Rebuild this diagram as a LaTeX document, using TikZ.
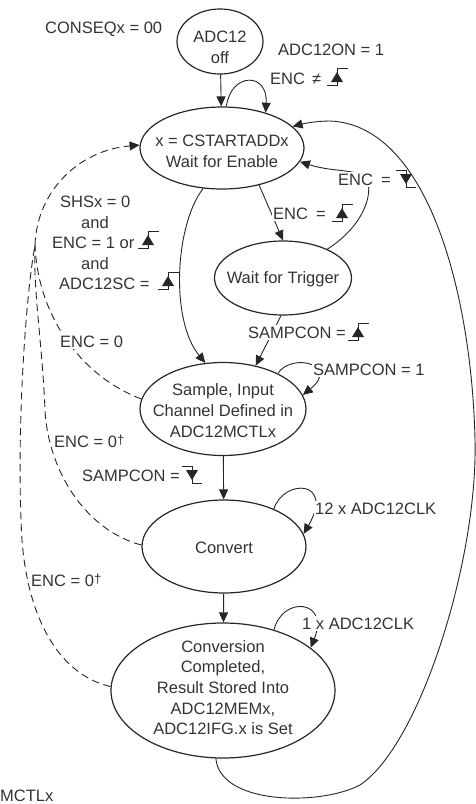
\documentclass[tikz,border=0pt]{standalone}
\usepackage{fontspec}
\setmainfont{Liberation Sans}
\usetikzlibrary{arrows.meta,shapes.geometric}
\newcommand\encdag{\raisebox{2.5pt}{\fontsize{13}{13}\selectfont †}}
\tikzset{
  edgeln/.style={draw=black!85, line width=0.9pt},
  riseedge/.pic={
    \draw[edgeln] (-10,8.5) -- (0,8.5) -- (0,-8.5) -- (11,-8.5);
    \fill[black!85] (-6,5) -- (6,5) -- (0,-5) -- cycle;
  },
  falledge/.pic={
    \draw[edgeln] (-10,-8.5) -- (0,-8.5) -- (0,8.5) -- (10,8.5);
    \fill[black!85] (-6,-5) -- (6,-5) -- (0,5) -- cycle;
  },
}
\begin{document}
\begin{tikzpicture}[x=1pt,y=-1pt,
  every node/.style={font=\fontsize{16.5}{20.7}\selectfont, text=black!80, inner sep=0pt},
  st/.style={ellipse, draw=black!85, line width=1.2pt},
  txt/.style={align=center},
  lab/.style={anchor=base west},
  wlab/.style={anchor=base west, fill=white, inner sep=1.5pt},
  arr/.style={edgeln, -{Triangle[length=10pt,width=9pt]}},
  dsh/.style={edgeln, dash pattern=on 7.5pt off 4.5pt},
]
\useasboundingbox (0,0) rectangle (476,804);

% states
\node[st, minimum width=86pt, minimum height=65pt] (off) at (220,41.5) {};
\node[txt] (offt) at (220,47.5) {ADC12\\off};
\node[st, minimum width=164pt, minimum height=82pt] (en) at (222,148) {};
\node[txt] (ent) at (222,151.5) {x = CSTARTADDx\\Wait for Enable};
\node[st, minimum width=137pt, minimum height=74pt] (trig) at (283,278) {};
\node[anchor=base] (trigt) at (283,283) {Wait for Trigger};
\node[st, minimum width=166pt, minimum height=93pt] (samp) at (223,409) {};
\node[txt] (sampt) at (223,410.5) {Sample, Input\\Channel Defined in\\ADC12MCTLx};
\node[st, minimum width=164pt, minimum height=93pt] (conv) at (224,546.5) {};
\node[anchor=base] (convt) at (224,553) {Convert};
\node[st, minimum width=224pt, minimum height=135pt] (done) at (223,690.5) {};
\node[txt] (donet) at (223,687.5) {Conversion\\Completed,\\Result Stored Into\\ADC12MEMx,\\ADC12IFG.x is Set};

% solid connectors
\draw[arr] (off) -- (en);
\draw[arr] (en.84) .. controls (231,72) and (268,72) .. (en.39);
\draw[arr] (done.-96) .. controls (220,805) and (320,806) .. (360,785)
  .. controls (420,745) and (478,560) .. (475,440)
  .. controls (472,300) and (430,125) .. (330,121)
  .. controls (315,121) and (302,124) .. (en.17);
\draw[arr] (trig.33) .. controls (360,228) and (372,200) .. (368,182)
  .. controls (364,168) and (335,173) .. (en.-10);
\draw[arr] (en.-45) -- (trig.north);
\draw[arr] (en.-115) .. controls (175,225) and (170,320) .. (samp.111);
\draw[arr] (trig.-93) -- (samp.53);
\draw[arr] (samp.33) .. controls (292,352) and (340,365) .. (samp.10);
\draw[arr] (samp) -- (conv);
\draw[arr] (conv.37) .. controls (284,478) and (335,480) .. (conv.9);
\draw[arr] (conv) -- (done);
\draw[arr] (done.50) .. controls (283,595) and (330,600) .. (done.26);

% dashed connectors
\coordinate (J) at (35,245);
\draw[dsh] (samp.173) .. controls (85,378) and (38,320) .. (J);
\draw[dsh] (conv.179) .. controls (85,530) and (48,470) .. (45,410)
  .. controls (42,340) and (33,290) .. (J);
\draw[dsh] (done.178) .. controls (60,675) and (28,620) .. (22,540)
  .. controls (16,440) and (25,300) .. (J);
\draw[dsh, -{Triangle[length=10pt,width=9pt]}] (J) .. controls (37,190) and (80,150) .. (en.178);

% labels
\node[lab] (l1) at (45,33) {CONSEQx = 00};
\node[lab] (l2) at (278,55) {ADC12ON = 1};
\node[lab] (l3) at (270,84) {ENC\hspace{7pt}≠};
\node[wlab] (l4) at (336.5,185) {ENC\hspace{8pt}=};
\node[wlab] (l5) at (271.5,219) {ENC\hspace{8pt}=};
\node[lab] (l6) at (60,207) {SHSx = 0};
\node[lab] (l7) at (81,228) {and};
\node[lab] (l8) at (52,248) {ENC = 1 or};
\node[lab] (l9) at (81,269) {and};
\node[lab] (l10) at (59,289) {ADC12SC =};
\node[wlab] (l11) at (246.5,338) {SAMPCON =};
\node[wlab] (l12) at (311.5,375) {SAMPCON = 1};
\node[wlab] (l13) at (58.5,347) {ENC = 0};
\node[lab] (l14) at (54,447) {ENC = 0\encdag};
\node[lab] (l15) at (82,481) {SAMPCON =};
\node[wlab] (l16) at (313.5,514) {12 x ADC12CLK};
\node[lab] (l17) at (31,586) {ENC = 0\encdag};
\node[wlab] (l18) at (300.5,629) {1 x ADC12CLK};
\node[lab] (l19) at (0,801) {MCTLx};

% edge symbols
\pic at (337,77) {riseedge};
\pic at (406,179) {falledge};
\pic at (342,213) {riseedge};
\pic at (148,240) {riseedge};
\pic at (168,281) {riseedge};
\pic at (358,332) {riseedge};
\pic at (192,475) {falledge};
\end{tikzpicture}
\end{document}
